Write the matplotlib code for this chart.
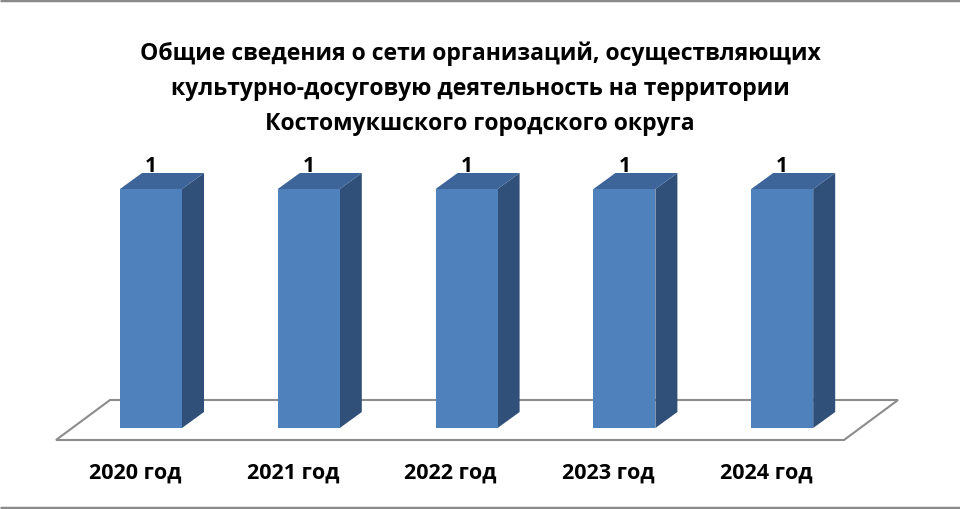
import matplotlib.pyplot as plt
from matplotlib.patches import Polygon

# Data
years = ['2020 год', '2021 год', '2022 год', '2023 год', '2024 год']
values = [1, 1, 1, 1, 1]
title = ('Общие сведения о сети организаций, осуществляющих\n'
         'культурно-досуговую деятельность на территории\n'
         'Костомукшского городского округа')

# Colors
front_color = '#4F81BD'
side_color = '#30507A'
top_color = '#3D659A'
floor_color = '#8C8C8C'

plt.rcParams['font.family'] = ['Open Sans', 'DejaVu Sans']

fig = plt.figure(figsize=(9.6, 5.1), dpi=100)
ax = fig.add_axes([0, 0, 1, 1])
ax.set_xlim(0, 960)
ax.set_ylim(510, 0)
ax.axis('off')

# layout (pixels)
x_first = 120
step = 157.8
bar_w = 62
dx, dy = 22, 16
base_y = 429
unit_h = 239  # pixels per value unit

# frame lines top and bottom
ax.plot([0, 960], [1, 1], color='#8A8A8A', lw=2.5, solid_capstyle='butt')
ax.plot([0, 960], [508.5, 508.5], color='#8A8A8A', lw=2.5, solid_capstyle='butt')

# floor
floor = Polygon([(56, 441), (844, 441), (898, 401), (110, 401)], closed=True,
                facecolor='white', edgecolor=floor_color, lw=1.5, zorder=1)
ax.add_patch(floor)

for i, (yr, v) in enumerate(zip(years, values)):
    x0 = x_first + i * step
    top = base_y - v * unit_h
    front = Polygon([(x0, base_y), (x0 + bar_w, base_y), (x0 + bar_w, top), (x0, top)],
                    closed=True, facecolor=front_color, edgecolor='none', zorder=3)
    side = Polygon([(x0 + bar_w, base_y), (x0 + bar_w + dx, base_y - dy),
                    (x0 + bar_w + dx, top - dy), (x0 + bar_w, top)],
                   closed=True, facecolor=side_color, edgecolor='none', zorder=2)
    topf = Polygon([(x0, top), (x0 + dx, top - dy), (x0 + bar_w + dx, top - dy), (x0 + bar_w, top)],
                   closed=True, facecolor=top_color, edgecolor='none', zorder=2)
    for p in (side, topf, front):
        ax.add_patch(p)
    ax.text(x0 + bar_w / 2, top - 23, str(v), ha='center', va='center',
            fontsize=15, fontweight='bold', color='black')
    ax.text(x0 + bar_w / 2 - 16, 473, yr, ha='center', va='center',
            fontsize=15.5, fontweight='bold', color='black')

ax.text(480, 89, title, ha='center', va='center', fontsize=16.6, fontweight='bold',
        color='black', linespacing=1.6)

fig.savefig('out.png', dpi=100)
